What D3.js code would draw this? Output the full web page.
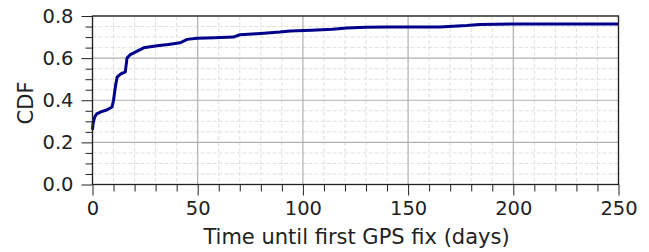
<html>
<script src="https://d3js.org/d3.v7.min.js"></script>
<style>
body {margin:0; background:#fff;}
text {font-family: "DejaVu Sans", sans-serif; fill:#222;}
</style>
<body>
<svg width=649 height=252></svg>
<script>
// time (days) vs CDF
var days = [0, 0.3, 1, 2, 4, 7, 9.3, 10, 10.8, 11.7, 13.3, 15.6, 16.4, 18, 21, 24.3, 30.7, 36, 41.7, 45, 49.7, 58, 67, 70, 80, 89, 94, 104, 114, 120.8, 130, 139.8, 165, 177.8, 184, 201.5, 250];
var cdf  = [0.26, 0.29, 0.32, 0.335, 0.345, 0.355, 0.368, 0.40, 0.46, 0.51, 0.524, 0.535, 0.60, 0.617, 0.632, 0.649, 0.659, 0.665, 0.673, 0.689, 0.694, 0.697, 0.70, 0.711, 0.717, 0.724, 0.729, 0.732, 0.737, 0.743, 0.746, 0.748, 0.748, 0.755, 0.76, 0.762, 0.762];
var xTicks = [0, 50, 100, 150, 200, 250];
var yTicks = [0.0, 0.2, 0.4, 0.6, 0.8];

var svg = d3.select("svg"),
    pLeft = 92.5, pRight = 618.5, pTop = 16, pBottom = 184.5;

var x = d3.scaleLinear().domain([0, 250]).range([pLeft, pRight]);
var y = d3.scaleLinear().domain([0, 0.8]).range([pBottom, pTop]);

var xMinor = d3.range(0, 251, 10).filter(function(d){ return d % 50 != 0; });
var yMinor = d3.range(0, 0.81, 0.05).map(function(d){ return +d.toFixed(2); })
               .filter(function(d){ return Math.round(d*100) % 20 != 0; });

var grid = svg.append("g");
// minor grid, dashed
grid.selectAll(".mx").data(xMinor).enter().append("line")
    .attr("x1", x).attr("x2", x).attr("y1", pTop).attr("y2", pBottom)
    .attr("stroke", "#d8d8d8").attr("stroke-dasharray", "4,2").attr("stroke-width", 0.8);
grid.selectAll(".my").data(yMinor).enter().append("line")
    .attr("y1", y).attr("y2", y).attr("x1", pLeft).attr("x2", pRight)
    .attr("stroke", "#d8d8d8").attr("stroke-dasharray", "4,2").attr("stroke-width", 0.8);
// major grid
grid.selectAll(".Mx").data(xTicks).enter().append("line")
    .attr("x1", x).attr("x2", x).attr("y1", pTop).attr("y2", pBottom)
    .attr("stroke", "#b0b0b0").attr("stroke-width", 1.2);
grid.selectAll(".My").data(yTicks).enter().append("line")
    .attr("y1", y).attr("y2", y).attr("x1", pLeft).attr("x2", pRight)
    .attr("stroke", "#b0b0b0").attr("stroke-width", 1.2);

// curve
var line = d3.line().x(function(d){ return x(d[0]); }).y(function(d){ return y(d[1]); });
svg.append("path").datum(d3.zip(days, cdf))
    .attr("d", line).attr("fill", "none")
    .attr("stroke", "#00008b").attr("stroke-width", 3).attr("stroke-linejoin", "round");

// axes
svg.append("g").attr("transform", "translate(0," + pBottom + ")")
    .call(d3.axisBottom(x).tickValues(xTicks).tickFormat(d3.format("d")).tickSize(11).tickPadding(6));
svg.append("g").attr("transform", "translate(0," + pBottom + ")")
    .call(d3.axisBottom(x).tickValues(xMinor).tickFormat("").tickSize(7));
svg.append("g").attr("transform", "translate(" + pLeft + ",0)")
    .call(d3.axisLeft(y).tickValues(yTicks).tickFormat(d3.format(".1f")).tickSize(11).tickPadding(8));
svg.append("g").attr("transform", "translate(" + pLeft + ",0)")
    .call(d3.axisLeft(y).tickValues(yMinor).tickFormat("").tickSize(7));

svg.selectAll(".domain").remove();
svg.selectAll(".tick line").attr("stroke", "#222").attr("stroke-width", 1);
svg.selectAll(".tick text").style("font-size", "19.5px").attr("fill", "#222");

// frame
svg.append("rect").attr("x", pLeft).attr("y", pTop)
    .attr("width", pRight - pLeft).attr("height", pBottom - pTop)
    .attr("fill", "none").attr("stroke", "#222").attr("stroke-width", 1.3);

svg.append("text").attr("x", (pLeft + pRight) / 2 + 1).attr("y", 244)
    .attr("text-anchor", "middle").style("font-size", "21px")
    .text("Time until first GPS fix (days)");
svg.append("text").attr("transform", "translate(33,103) rotate(-90)")
    .attr("text-anchor", "middle").style("font-size", "21px")
    .text("CDF");
</script>
</body>
</html>
